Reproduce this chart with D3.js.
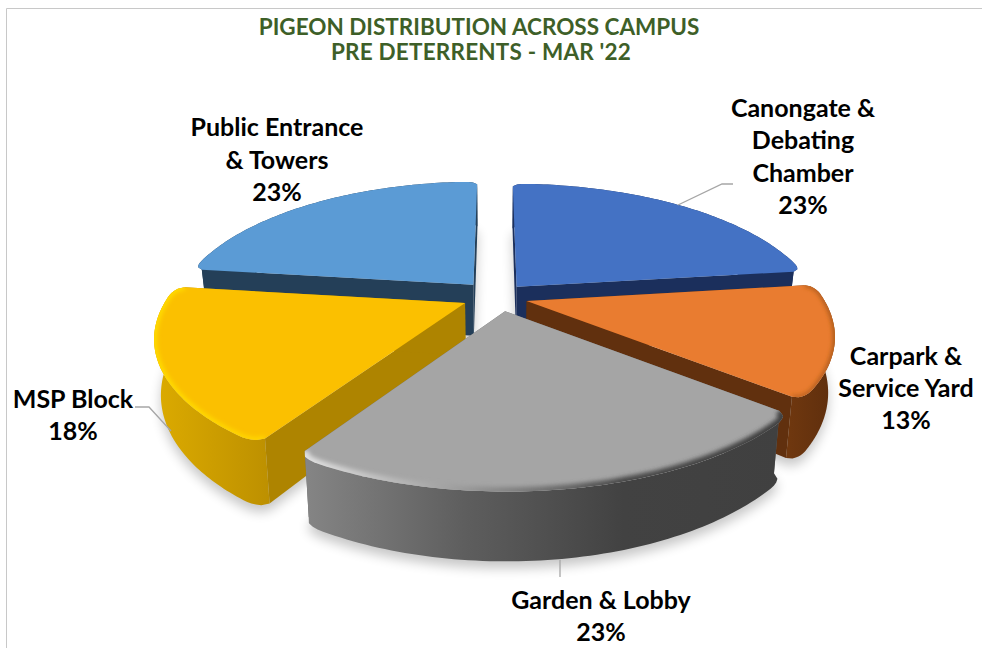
<!DOCTYPE html>
<html>
<head>
<meta charset="utf-8">
<script src="https://cdnjs.cloudflare.com/ajax/libs/d3/7.8.5/d3.min.js"></script>
<style>
  html, body { margin: 0; padding: 0; background: #fff; }
  svg { display: block; }
  text { font-family: Lato, "Open Sans", sans-serif; font-weight: 700; text-anchor: middle; }
</style>
</head>
<body>
<svg width="982" height="648"></svg>
<script>
// data, clockwise from 12 o'clock
var categories = ["Canongate & Debating Chamber", "Carpark & Service Yard", "Garden & Lobby", "MSP Block", "Public Entrance & Towers"];
var values = [23, 13, 23, 18, 23];
var titleLines = ["PIGEON DISTRIBUTION ACROSS CAMPUS", "PRE DETERRENTS - MAR '22"];
var labelLines = [["Canongate &", "Debating", "Chamber"], ["Carpark &", "Service Yard"], ["Garden & Lobby"], ["MSP Block"], ["Public Entrance", "& Towers"]];

// colours per slice
var topColors = ["#4472c4", "#e97c30", "#a5a5a5", "#fbc000", "#5b9bd5"];
var faceColors = ["#1b2f5c", "#61300e", "#6c6c6c", "#ae8400", "#243f58"];
var wallColors = [["#1b2f5c", "#1b2f5c"], ["#70380f", "#5e2e0d"], ["#858585", "#5e5e5e", "#424242", "#404040"], ["#dcab00", "#bd9000"], ["#243f58", "#243f58"]];
var bevelColors = [null, ["#c0651f", "#a35519"], ["#e0e0e0", "#9a9a9a", "#4a4a4a", "#3f3f3f"], ["#ffdc00", "#ffd400"], null];
var bevelWidth = [0, 4, 9, 6, 0];

var cx = 494, cy = 297;
var radiusX = 296, radiusY = 131;
var perspective = 0.231, depth = 52, depthShrink = 0.02, explode = 0.107;
var cornerAngle = 0.07, cornerCut = 0.03;
// small per slice corrections, the original's perspective is not a clean one
var stretchX = [1.02, 1, 1.03, 1.005, 1];
var nudgeX = [2, 2, 6, 0, 0];
var nudgeY = [0, 0, 0, 0, -2];

var svg = d3.select("svg");
var defs = svg.append("defs");
var x = d3.scaleLinear().domain([-1, 1]).range([cx - radiusX, cx + radiusX]);
var y = d3.scaleLinear().domain([-1, 1]).range([cy - radiusY, cy + radiusY]);
var line = d3.line();
var pct = d3.format(".0%");
var total = d3.sum(values);

// plane coordinates to screen, z 0 = top face, 1 = bottom of the wall
function project(px, py, z) {
  var s = 1 / (1 - perspective * py);
  return [x(px * s * (1 - depthShrink * z)), y(py * s) + depth * s * z];
}

function slicePoint(d, a, r, z) {
  var mid = (d.startAngle + d.endAngle) / 2;
  var p = project(explode * Math.sin(mid) + r * Math.sin(a) * stretchX[d.index], -explode * Math.cos(mid) - r * Math.cos(a), z);
  return [p[0] + nudgeX[d.index], p[1] + nudgeY[d.index]];
}

// outer edge, pulled in near both ends so the corners come out rounded
function arcPoints(d, z) {
  var n = 80, pts = [];
  d3.range(n + 1).forEach(function(i) {
    var a = d.startAngle + (d.endAngle - d.startAngle) * i / n;
    var edge = Math.min(a - d.startAngle, d.endAngle - a);
    var t = Math.max(0, 1 - edge / cornerAngle);
    pts.push(slicePoint(d, a, 1 - cornerCut * (1 - Math.sqrt(1 - t * t)), z));
  });
  return pts;
}

function radialFace(d, a) {
  return line([slicePoint(d, a, 0, 0), slicePoint(d, a, 1 - cornerCut, 0), slicePoint(d, a, 1 - cornerCut, 1), slicePoint(d, a, 0, 1)]) + "Z";
}

function gradient(id, colors) {
  var g = defs.append("linearGradient").attr("id", id);
  colors.forEach(function(c, i) {
    g.append("stop").attr("offset", (100 * i / (colors.length - 1)) + "%").attr("stop-color", c);
  });
}

defs.append("filter").attr("id", "shadow")
    .attr("x", "-20%").attr("y", "-20%").attr("width", "140%").attr("height", "140%")
  .append("feGaussianBlur").attr("stdDeviation", 6);
defs.append("filter").attr("id", "soft")
    .attr("x", "-10%").attr("y", "-10%").attr("width", "120%").attr("height", "120%")
  .append("feGaussianBlur").attr("stdDeviation", 2);

var slices = d3.pie().sort(null).value(function(d) { return d; })(values);
var drawOrder = [4, 0, 1, 3, 2];

// chart frame
svg.append("path").attr("d", "M6.5,648V8.5H982").attr("fill", "none").attr("stroke", "#c8c8c8");

// soft shadows go under everything
drawOrder.forEach(function(i) {
  var d = slices[i];
  var hull = arcPoints(d, 1).concat([slicePoint(d, d.endAngle, 0, 1), slicePoint(d, d.startAngle, 0, 1)]);
  svg.append("path").attr("d", line(hull) + "Z")
    .attr("transform", "translate(0,7)")
    .attr("fill", "#000").attr("opacity", 0.22).attr("filter", "url(#shadow)");
});

drawOrder.forEach(function(i) {
  var d = slices[i];
  var g = svg.append("g").attr("class", "slice");
  var top = arcPoints(d, 0);
  var topPath = line([slicePoint(d, d.startAngle, 0, 0)].concat(top)) + "Z";

  gradient("wall" + i, wallColors[i]);
  g.append("path").attr("d", radialFace(d, d.startAngle)).attr("fill", faceColors[i]);
  g.append("path").attr("d", radialFace(d, d.endAngle)).attr("fill", faceColors[i]);
  g.append("path").attr("d", line(top.concat(arcPoints(d, 1).reverse())) + "Z").attr("fill", "url(#wall" + i + ")");
  g.append("path").attr("d", topPath).attr("fill", topColors[i]);

  if (bevelColors[i]) {
    gradient("bevel" + i, bevelColors[i]);
    defs.append("clipPath").attr("id", "clip" + i).append("path").attr("d", topPath);
    g.append("g").attr("clip-path", "url(#clip" + i + ")")
      .append("path").attr("d", line(top))
      .attr("fill", "none").attr("stroke", "url(#bevel" + i + ")").attr("stroke-width", bevelWidth[i])
      .attr("filter", "url(#soft)");
  }
});

// leader lines
var leaders = [
  [[678, 205], [722, 184], [733, 184]],
  [[135, 407], [149, 407], [171, 431]],
  [[560, 560], [560, 577]]
];
svg.selectAll(".leader").data(leaders).enter().append("path")
  .attr("class", "leader")
  .attr("d", function(d) { return line(d); })
  .attr("fill", "none").attr("stroke", "#a6a6a6").attr("stroke-width", 1.3);

svg.selectAll(".title").data(titleLines).enter().append("text")
  .attr("class", "title")
  .attr("x", function(d, i) { return 479 + i * 2; })
  .attr("y", function(d, i) { return 35 + i * 25; })
  .attr("letter-spacing", function(d, i) { return i * 0.2; })
  .attr("fill", "#3e5f28").attr("font-size", 22.5)
  .text(function(d) { return d; });

// label anchor: centre x and first baseline for each slice
var labelX = [803, 906, 601, 73, 277];
var labelY = [117, 365, 609, 408, 136];
var labelStep = [32.3, 32, 32, 32, 32.5];

categories.forEach(function(name, i) {
  var lines = labelLines[i].concat(pct(values[i] / total));
  svg.selectAll(".label" + i).data(lines).enter().append("text")
    .attr("class", "label" + i)
    .attr("x", labelX[i])
    .attr("y", function(d, j) { return labelY[i] + j * labelStep[i]; })
    .attr("fill", "#000").attr("font-size", 25)
    .text(function(d) { return d; });
});
</script>
</body>
</html>
